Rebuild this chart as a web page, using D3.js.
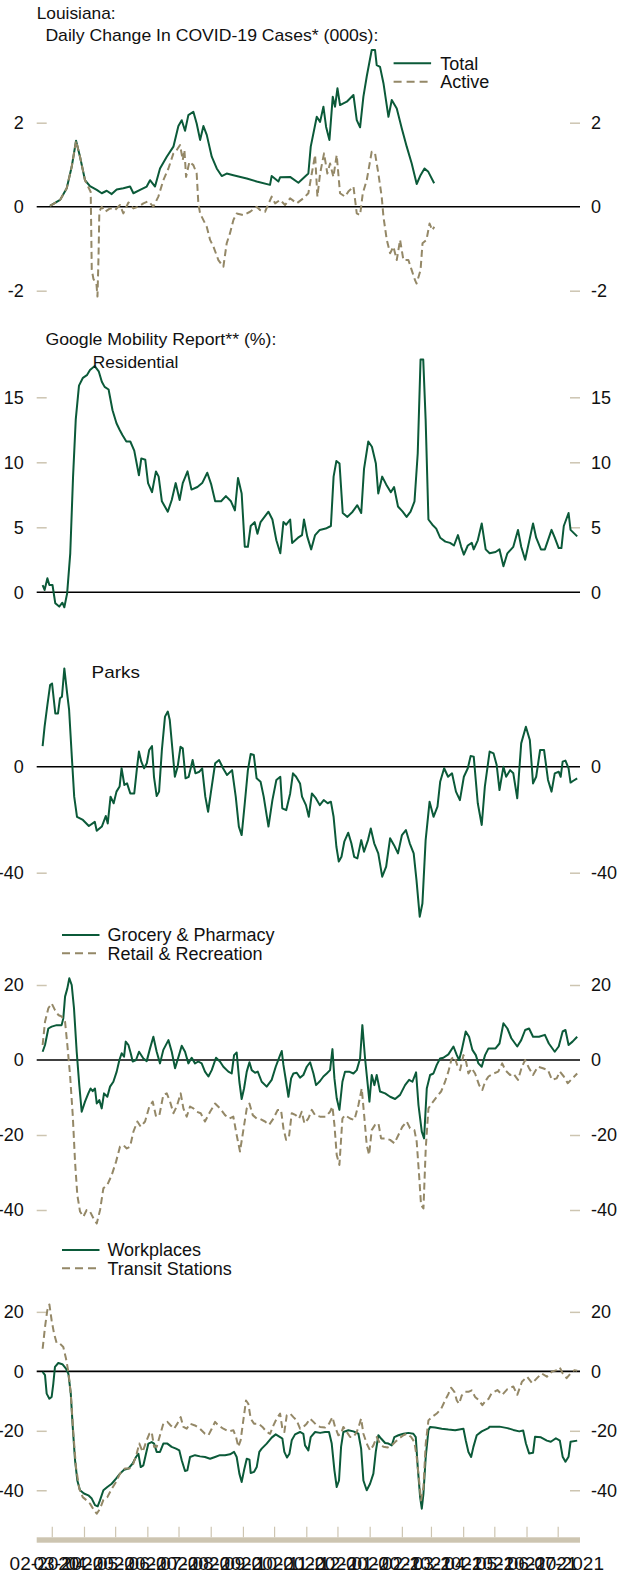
<!DOCTYPE html>
<html>
<head>
<meta charset="utf-8">
<script src="https://cdn.jsdelivr.net/npm/d3@7"></script>
<style>
  body { margin: 0; background: #fff; }
  svg { display: block; }
  text { font-family: "Liberation Sans", Arial, sans-serif; fill: #111; }
</style>
</head>
<body>
<div id="chart"></div>
<script>
// days are counted from DAY0
var DAY0 = "2020-02-15", DAY_END = "2021-07-22";

// Louisiana daily change in cases (000s)
var covidTotal = [[12.8,0.02],[22.5,0.16],[28.9,0.44],[33.7,0.95],[37.9,1.57],[41.7,1.19],[46.5,0.63],[51.3,0.49],[57.8,0.40],[62.6,0.32],[67.4,0.38],[72.2,0.30],[77,0.41],[83.4,0.44],[89.9,0.48],[93.1,0.32],[99.5,0.40],[105.9,0.48],[109.1,0.63],[113.9,0.48],[118.7,0.91],[125.2,1.19],[131.6,1.43],[136.4,1.92],[139.6,2.06],[142.8,1.81],[146,2.18],[150.8,2.26],[154,1.98],[157.3,1.59],[160.5,1.92],[163.7,1.71],[168.5,1.19],[173.3,0.91],[178.1,0.73],[182.9,0.79],[189.3,0.75],[202.2,0.67],[211.8,0.60],[224.6,0.52],[226.2,0.73],[232.7,0.60],[234.3,0.70],[243.9,0.71],[251.9,0.57],[261.5,0.79],[263.8,1.43],[269.6,2.14],[272.8,2.02],[276,2.38],[278.6,1.90],[281.8,1.59],[285,2.62],[287.2,2.38],[289.5,2.82],[292,2.42],[298.5,2.50],[304.9,2.66],[308.1,2.06],[311.3,1.89],[314.5,2.62],[317.7,3.10],[322.5,3.73],[325.7,3.73],[327.3,3.37],[330.5,3.33],[333.8,2.94],[338.6,2.14],[341.8,2.54],[346.6,2.34],[351.4,1.87],[356.2,1.43],[361,1.03],[365.8,0.54],[369.5,0.75],[373.3,0.91],[377,0.83],[382.6,0.56]];
var covidActive = [[12.8,0.02],[22.5,0.16],[28.9,0.44],[33.7,0.95],[37.9,1.57],[41.7,1.19],[46.5,0.63],[50,0.45],[52,0.35],[53,-1.5],[54.6,-1.72],[57.5,-1.83],[58.5,-2.14],[59.5,-1.2],[60.3,-0.12],[62.6,0],[65.8,-0.12],[70.6,-0.04],[75.4,-0.08],[80.2,0.04],[83.4,-0.16],[88.3,0.10],[93.1,-0.04],[97.9,0],[102.7,0.08],[107.5,0.13],[112.3,0],[117.1,0.24],[121.9,0.63],[126.8,0.91],[131.6,1.27],[134.8,1.35],[138,1.47],[140.6,1.11],[142.2,1.35],[143.8,0.71],[147,1.07],[150.8,0.99],[154,0.79],[155.6,0.08],[157.3,-0.16],[160.5,-0.32],[163.7,-0.48],[166.9,-0.79],[170.1,-0.95],[174.9,-1.27],[179.7,-1.43],[182.9,-0.87],[186.1,-0.63],[189.3,-0.32],[192.5,-0.16],[199,-0.2],[205.4,-0.12],[211.8,0],[215,-0.08],[219.8,-0.12],[226.2,0.24],[229.5,0.08],[234.3,0.16],[239.1,0.04],[243.9,0.2],[250.3,0.08],[256.7,0.2],[261.5,0.32],[264.8,0.79],[268,1.23],[270.2,0.24],[272.8,0.79],[276.6,1.27],[279.8,0.79],[282.4,1.03],[285.6,0.71],[288.8,1.23],[292,0.32],[296.8,0.24],[300,0.36],[304.9,0.48],[308.1,-0.16],[311.3,-0.2],[313.9,0.32],[317.7,0.63],[322.5,1.31],[325.7,1.27],[328.9,0.79],[332.1,0.24],[333.8,-0.24],[337,-0.79],[340.2,-1.11],[343.4,-0.95],[346.6,-1.27],[349.8,-0.79],[353,-1.27],[357.8,-1.27],[361,-1.51],[364.2,-1.75],[365.7,-1.83],[369.5,-1.51],[371.4,-0.87],[375.2,-0.79],[378.2,-0.4],[380.8,-0.56],[382.7,-0.48]];

// Google mobility (% change from baseline)
var residential = [[5.7,0.56],[7.6,0.18],[10.3,1.08],[12.2,0.56],[15.2,0.56],[17.9,-0.85],[21.7,-1.1],[24.7,-0.8],[26.6,-1.15],[29.3,-0.08],[32.3,3.0],[35,8.9],[37.6,13.3],[40.7,15.9],[44.5,16.5],[48.3,16.7],[51.3,17.1],[55.9,17.4],[59.7,17.0],[62.7,16.2],[65.4,15.8],[69.2,15.6],[73,14.0],[76.8,13.0],[79.8,12.5],[82.5,12.1],[86.3,11.6],[90.1,11.6],[93.9,10.9],[98.4,9.0],[100.7,10.3],[104.5,10.2],[107.2,8.4],[111,7.7],[114.8,9.3],[117.4,8.9],[120.5,7.0],[126.2,6.2],[130,7.1],[133.8,8.4],[137.6,7.1],[140.6,8.4],[145.2,9.3],[149,7.9],[154.7,8.1],[159.3,8.4],[164.2,9.2],[168,8.3],[171.8,7.0],[177.5,7.0],[182.1,7.4],[187,7.0],[190.8,6.3],[193.8,8.8],[197.3,7.6],[200.3,3.5],[203.3,3.5],[206,5.1],[209.8,5.4],[212.5,4.5],[215.5,5.4],[219.3,5.8],[223.1,6.2],[226.9,5.6],[230.7,4.0],[234.5,3.0],[237.5,5.4],[240.2,5.2],[244,5.6],[245.9,3.8],[251.6,4.2],[255.4,4.4],[257.3,5.6],[260.4,4.3],[264.2,3.3],[268,4.4],[272.5,4.8],[278.2,4.9],[283.2,5.1],[285.8,8.9],[288.5,10.1],[291.5,9.9],[294.6,6.1],[299.1,5.8],[304.1,6.2],[308.6,6.7],[312.4,6.1],[315.1,9.5],[319.2,11.6],[322.7,11.2],[326.5,9.9],[328.8,7.6],[332.6,8.9],[336.4,8.3],[340.9,7.7],[344,8.1],[347.8,6.6],[352.3,6.2],[356.1,5.8],[359.9,6.2],[363.7,7.0],[366.8,10.7],[369.5,17.9],[372.1,17.9],[374.4,13.3],[377.1,5.6],[380.9,5.2],[384.6,4.9],[388.4,4.2],[393.4,3.9],[397.9,3.8],[401.7,3.6],[405.5,4.4],[408.6,3.5],[411.2,2.9],[415,3.6],[418.8,3.8],[420.7,3.3],[424.6,4.0],[428.4,5.3],[432.2,3.3],[436,3.0],[441.7,3.1],[445.5,3.3],[449.3,2.0],[453.1,3.0],[458.8,3.5],[463.3,4.8],[466.4,3.5],[470.2,2.5],[474,3.9],[477.8,5.3],[480.8,4.2],[485.4,3.3],[489.2,3.3],[495.6,4.8],[498.7,4.2],[502.5,3.4],[505.1,3.4],[507.4,5.1],[512,6.1],[513.9,4.8],[520.3,4.3]];
var parks = [[5.7,7.8],[7.6,15.1],[10.3,23.3],[12.9,30.8],[14.8,31.4],[17.9,20.1],[20.5,20.1],[22.4,25.8],[24.3,26.4],[26.6,37.1],[29.3,27.7],[31.2,21.4],[33.8,3.8],[36.1,-11.3],[38.8,-18.9],[44.5,-20.1],[50.2,-22.4],[55.9,-20.8],[57.8,-24.2],[62.7,-22.6],[66.5,-18.6],[68.4,-21.4],[71.1,-11.3],[74.1,-13.8],[76.8,-9.4],[79.8,-7.5],[81.7,-0.6],[84.4,-6.9],[87,-6.3],[90.1,-10.1],[93.9,-10.1],[96.5,-0.6],[98.4,5.7],[100.7,1.9],[103.4,-0.6],[106,1.3],[108.3,6.3],[111,7.8],[112.9,-3.8],[115.5,-11.1],[117.8,-9.4],[120.5,6.3],[123.5,18.9],[126.2,20.8],[128.1,17.6],[130.7,6.3],[133,-3.8],[135.7,0],[138.4,7.5],[140.6,6.9],[143.3,-4.4],[146.3,-3.8],[150.1,2.5],[152.8,-2.5],[156.6,-1.9],[159.3,-0.6],[162.3,-11.3],[165,-17],[168,-8.8],[171.8,1.3],[175.6,2.5],[179.4,-0.6],[183.2,-3.1],[188.1,-1.3],[191.6,-11.3],[194.6,-22.6],[197.3,-25.8],[200.3,-13.8],[203.3,-1.3],[206,4.8],[209,4.4],[211.7,-4.4],[215.5,-5.7],[218.5,-11.3],[223.1,-22.6],[226.9,-12.6],[230.7,-5],[234.5,-3.8],[236.4,-15.7],[240.2,-16.4],[244,-10.1],[246.7,-2.5],[249.7,-3.8],[253.5,-6.3],[255.4,-11.3],[259.2,-14.5],[261.9,-18.9],[264.9,-10.1],[268.7,-11.9],[272.5,-14.5],[276.3,-12.6],[280.1,-13.8],[283.2,-13.2],[285.8,-18.9],[288.5,-30.2],[290.8,-35.8],[293.4,-34],[296.1,-28.3],[299.9,-24.9],[302.9,-28.9],[305.6,-34],[308.7,-34.6],[312.4,-27.7],[315.1,-32.1],[318.9,-27.7],[321.6,-23.3],[324.9,-28.9],[328.8,-32.7],[332.6,-41.5],[336.4,-37.7],[340.2,-27],[344,-29.6],[347.8,-32.7],[351.6,-25.8],[355.4,-23.9],[359.1,-28.9],[362.9,-32.7],[365.6,-42.8],[368.7,-56.6],[371.3,-51.6],[374.4,-27.7],[378.2,-13.2],[382,-18.9],[385.8,-15.1],[388.4,-5.7],[392.2,-0.6],[396,-3.8],[399.8,-2.5],[403.6,-9.4],[407.4,-12.6],[411.2,-3.8],[415,-0.6],[417.7,4],[420.7,3.8],[424.6,-13.8],[428.4,-22],[431.4,-7.5],[436,5.7],[439.8,5],[442.8,0.6],[445.5,-8.8],[449.3,0],[451.9,-3.8],[455.7,-1.3],[458.8,-2.5],[462.6,-11.9],[466.4,8.8],[470.9,15.1],[474.7,10.1],[477.8,-6.3],[480.8,-3.8],[484.6,6.3],[488.4,6.3],[492.2,-5],[495.6,-9.4],[498.7,-2.5],[502.5,-1.9],[504.4,-3.8],[506.3,1.9],[509,2.3],[512,-0.6],[513.9,-6],[516.6,-5.3],[520.3,-4.4]];
var grocery = [[5.7,2.2],[8,4],[11.2,8.4],[14.4,8.9],[19.2,9.3],[24,9.3],[25.6,11.1],[27.3,16.9],[29.5,19.1],[31.4,21.8],[33.7,20],[35.9,13.8],[38.5,2.2],[41,-6.7],[43.3,-13.8],[46.5,-11.1],[49.7,-8.9],[51.9,-7.6],[53.9,-8.3],[56.1,-7.6],[57.8,-11.6],[60.3,-10.7],[62.6,-12.9],[64.8,-8.9],[68,-9.8],[70.6,-7.1],[73.8,-5.8],[77,-3.1],[79.6,0],[81.8,1.8],[84.1,0.9],[85.7,4.9],[88.3,4],[90.5,1.8],[92.4,-0.4],[95.6,0],[98.5,2.2],[102.7,0.4],[105.9,-0.3],[109.1,3.1],[112.3,6.2],[115.5,2.2],[118.7,-0.9],[121.9,2.7],[126.8,5.3],[130,2.2],[133.2,-2.2],[137,1.3],[139.6,3.8],[142.8,2.2],[146,-0.9],[149.2,0.6],[152.4,-0.9],[155.6,-0.4],[158.8,-0.9],[162,-3.1],[165.3,-4.4],[168.5,-2.7],[172.6,0.6],[176.4,-0.4],[179.7,-1.8],[184.5,-3.1],[187.7,-3.6],[190,1.3],[192.5,2],[195.1,-5.8],[197.3,-10.4],[199.6,-7.6],[202.2,-3.1],[204.8,-0.6],[207,-2.7],[210.2,-3.4],[212.8,-3.1],[216.6,-5.8],[221.4,-7.1],[226.2,-5.3],[230.1,-1.8],[234.3,1.3],[235.9,2.4],[237.5,-1.3],[240.1,-5.8],[242.3,-9.8],[244.9,-4.9],[247.1,-3.6],[250.3,-3.4],[253.5,-4.7],[256.7,-4],[260,-1.8],[263.2,-0.6],[266.4,-3.6],[268.9,-6.7],[272.8,-5.6],[276,-4.4],[279.2,-3.6],[282.4,-2.7],[284.7,2.9],[286.6,-4.9],[288.8,-10.2],[291.4,-13.3],[294.3,-5.8],[296.8,-3.1],[300.7,-3.1],[304.9,-3.6],[308.1,-2.7],[311.3,0.4],[313.5,9.3],[316.1,0.4],[318.7,-6.7],[320.3,-11.1],[322.5,-4],[325.1,-6.7],[327.3,-4],[330.5,-8.4],[335.4,-8.9],[340.2,-9.8],[345,-10.4],[349.8,-9.3],[354.6,-6.7],[358.5,-5.3],[361.7,-5.8],[365.2,-3.3],[367.5,-12],[370.7,-19.1],[372.9,-20.9],[375.5,-7.6],[378.7,-4],[381.9,-3.6],[385.1,-1.3],[388.3,0.4],[391.5,0.6],[396.3,1.5],[401.2,3.6],[404.4,1.3],[406.6,0],[409.2,2.7],[413,7.6],[416.2,6.2],[419.4,2.7],[422.7,1.3],[425.2,-0.9],[428.4,-1.8],[431.6,1.3],[434.9,3.1],[441.7,3.1],[445.5,4.4],[449.3,9.8],[453.1,8.4],[456.9,5.8],[462.6,3.6],[466.4,5.3],[470.2,8],[474,8.4],[477.8,6.2],[483.5,6.2],[489.2,6.7],[493,4.4],[498.7,2.2],[502.5,3.6],[506.3,7.6],[509,8],[512,4],[515.8,4.9],[520.3,6.2]];
var retail = [[5.7,4],[8,10.2],[11.2,13.8],[14.4,15.1],[17.6,13.3],[20.8,12],[24,11.6],[27.3,10.2],[29.5,4],[32.1,-4],[34.7,-14.7],[36.9,-27.1],[39.1,-36],[41.7,-40.4],[44.9,-41.8],[48.1,-40],[51.3,-40.4],[54.6,-42.2],[57.8,-43.6],[61,-40],[64.2,-34.2],[68,-33.3],[72.2,-30.7],[76.4,-27.1],[80.2,-23.1],[83.4,-22.7],[86.7,-23.6],[89.9,-23.1],[93.1,-19.1],[96.9,-16.4],[100.2,-17.8],[104.3,-16.4],[108.4,-12.4],[111.7,-11.1],[114.9,-15.1],[118.1,-14.7],[121.9,-9.3],[125.2,-8.9],[128.4,-11.1],[131.6,-14.2],[134.8,-12.4],[138.6,-8.9],[141.2,-12.9],[144.4,-15.1],[147.6,-12.4],[150.8,-12.9],[154,-13.8],[157.9,-14.2],[162,-16.4],[166.9,-13.8],[171.7,-11.6],[176.4,-12.9],[181.3,-14.7],[185.4,-15.6],[189.3,-15.1],[192.5,-20],[195.7,-24.4],[198.7,-19.1],[202.2,-12.9],[204.8,-11.6],[208,-14.7],[211.8,-15.6],[215,-15.7],[219.8,-16.4],[223.7,-17.3],[227.9,-15.6],[232,-13.3],[235.2,-13.3],[237.5,-18.2],[240.1,-21.3],[242.9,-20.4],[245.5,-14.2],[249.4,-14.7],[252.6,-15.6],[255.1,-13.8],[257.7,-16.9],[261.5,-15.6],[264.8,-13.3],[268,-14.7],[272.8,-15.1],[278.2,-15.1],[282.4,-13.8],[284.7,-12.4],[286.6,-17.3],[288.8,-25.3],[291.4,-28],[294.3,-15.6],[296.8,-14.7],[301.7,-15.6],[305.8,-16],[309.7,-12],[312.9,-7.6],[315.5,-15.6],[317.7,-22.7],[320,-25.3],[322.5,-18.7],[325.7,-17.3],[329,-16.9],[331.5,-20.9],[335.4,-20.9],[340.2,-21.3],[344.3,-22.2],[348.2,-20],[352,-17.8],[356.2,-16.4],[359.4,-18.2],[363.6,-18.7],[365.8,-21.8],[368.1,-30.7],[370,-38.7],[372.3,-39.6],[374.5,-23.6],[377.1,-12.9],[380.3,-11.6],[385.1,-9.8],[389.3,-8.4],[393.1,-5.8],[396.3,-3.1],[399.5,0.4],[402.1,0.9],[405.3,-1.8],[407.6,-2.7],[410.8,1.3],[413,0],[415.6,-3.6],[418.8,-2.2],[422,-3.6],[425.9,-6.7],[429,-8],[431.6,-5.8],[434.9,-4.4],[439.8,-3.6],[444.3,-3.1],[448.1,-0.9],[451.1,-2.7],[455.7,-4],[458.8,-3.6],[463.3,-5.3],[467.1,-1.8],[470.2,0],[474,-2.2],[477.8,-4],[482.3,-1.8],[487.3,-2.2],[492.2,-2.7],[496,-5.3],[500.6,-4.9],[503.6,-3.1],[507.4,-4.4],[511.2,-6.2],[515.8,-4.9],[520.3,-3.6]];
var workplaces = [[5.7,-0.2],[8,-1.3],[9.6,-7.5],[12.2,-9.2],[14.4,-8.6],[16,-4.1],[17.6,1.5],[20.8,2.8],[24.7,2.4],[28.2,0.9],[30.5,-0.8],[32.8,-7.5],[34.7,-18.7],[36.9,-29.9],[39.1,-36.7],[41.7,-40],[45.5,-41.1],[49.7,-41.7],[53,-42.8],[56.1,-45],[58.7,-45.4],[60.9,-43.4],[64.2,-40],[68,-38.9],[72.2,-37.8],[76.4,-36.1],[80.2,-34.4],[84.1,-33.1],[88.2,-32.7],[92.4,-31],[95.6,-28.8],[97.9,-27.7],[100.1,-32.2],[102.7,-31.6],[105.2,-27.7],[107.5,-24.3],[110.7,-23.8],[113,-24.3],[115.5,-27.1],[118.7,-27.1],[121.9,-24.3],[125.8,-24.3],[129.9,-25.4],[134.1,-26],[137.3,-26.6],[139.6,-29.9],[142.8,-33.5],[145,-33.3],[147.6,-28.8],[152.4,-28.2],[157.2,-28.6],[162,-28.8],[166.9,-29.4],[171.7,-28.8],[176.4,-28.2],[181.3,-28.2],[186.1,-27.9],[190,-27.1],[192.5,-28.8],[195.1,-34.4],[197.3,-37.2],[199.6,-33.3],[202.2,-29.4],[204.8,-29.7],[206,-34.2],[209.3,-33.8],[211.8,-32.2],[214.3,-27.1],[216.6,-26],[221.4,-24.3],[226.2,-22.3],[230.1,-21.2],[234.3,-22.1],[236.5,-22.6],[238.4,-27.1],[241,-29],[243.3,-27.7],[245.5,-23.2],[248.7,-21.2],[253.5,-20.4],[256.7,-21],[258.3,-24.9],[261.5,-26.6],[263.8,-22.1],[268,-20.4],[272.8,-20.7],[277.6,-20.4],[281.4,-20.4],[284,-24.3],[286.6,-33.3],[288.8,-38.9],[291,-36.7],[293,-25.4],[295.2,-20.4],[300,-19.8],[304.9,-20.2],[309.7,-21],[312.3,-26],[314.5,-36.7],[317.7,-40],[320.9,-37.8],[324.1,-34.4],[326.4,-27.1],[328.9,-21.5],[331.5,-22.6],[335.4,-24.1],[338.6,-24.3],[341.8,-24.9],[344.3,-22.1],[348.2,-21.5],[353,-21],[357.8,-20.7],[362.6,-21],[364.9,-22.1],[366.8,-32.2],[369.1,-42.3],[370.7,-46.2],[372.3,-41.1],[374.5,-28.8],[377.1,-19.8],[378.7,-18.7],[383.5,-18.9],[389.9,-19.3],[396.3,-19.6],[402.8,-19.8],[410.8,-19.3],[413,-23.2],[415.6,-27.1],[418.2,-28.8],[420.4,-25.4],[423.6,-21.5],[428.4,-20.2],[434.9,-19.1],[436,-18.6],[445.5,-18.6],[453.1,-19.1],[458.8,-19.7],[464.5,-20.2],[468.3,-19.9],[470.9,-24.2],[474,-27.6],[477.8,-27.4],[479.7,-22],[485.4,-22.2],[491.1,-23.3],[494.9,-23.7],[499.8,-22.5],[503.6,-23.3],[506.3,-28.7],[509,-30.4],[512,-28.7],[513.9,-23.7],[520.3,-23.3]];
var transit = [[5.7,7.6],[8,14.9],[10.2,20.5],[12.2,22.5],[14.4,17.1],[16.7,12.7],[19.2,9.5],[22.4,9.3],[25.6,8.2],[28.2,4.3],[30.5,-0.2],[32.8,-7.5],[35.3,-20.9],[37.8,-32.2],[41,-39.5],[44.3,-42.3],[48.1,-43.4],[51.3,-44.5],[55.2,-46.7],[57.8,-47.9],[61,-46.2],[64.2,-43.2],[68,-42.3],[72.2,-39.5],[76.4,-37.2],[80.2,-34.4],[85,-32.7],[89.2,-32.7],[93.1,-31],[96.2,-27.7],[98.8,-24.3],[102,-27.1],[105.9,-23.2],[108.4,-21],[110.7,-20.4],[113,-25.4],[115.5,-25.4],[118.7,-21.5],[121.9,-17.6],[125.8,-17],[129,-18.2],[132.2,-19.3],[135.4,-17.6],[138.6,-15.4],[141.2,-18.7],[144.4,-19.3],[147.6,-17.6],[152.4,-18.2],[157.2,-19.3],[162,-21],[165.3,-21.5],[168.5,-19.3],[171.7,-17],[174.9,-18.2],[179.7,-19.3],[184.5,-20.2],[189.3,-19.8],[191.9,-22.1],[194.1,-25.4],[196.3,-23.2],[198.9,-16.5],[201.5,-9.8],[203.7,-10.9],[206,-15.9],[209.2,-17.6],[213.4,-17.6],[217.3,-18.7],[221.4,-20.4],[224.6,-21],[227.9,-18.2],[231,-15.9],[234.3,-14.2],[236.5,-19.3],[238.4,-20.4],[240.7,-14.8],[243.9,-14.2],[247.1,-15.4],[250.3,-16.5],[253.5,-19.3],[256.7,-18.7],[259.9,-17.6],[263.2,-15.9],[266.4,-17],[269.6,-18.2],[272.8,-18.7],[277.6,-18.9],[281.4,-17.6],[284.7,-15.4],[287.2,-18.7],[290.4,-21.5],[293,-21],[295.2,-18.7],[298.5,-20.4],[301.7,-22.1],[304.9,-22.1],[308.1,-20.4],[310.3,-18.2],[312.3,-15.9],[314.5,-21],[317.7,-24.3],[320.9,-26.6],[324.1,-24.9],[327.3,-22.1],[330.5,-24.3],[333.8,-25.4],[337.9,-25.6],[341.8,-24.9],[345,-23.8],[348.8,-22.6],[353,-21.5],[356.2,-21],[360.4,-22.1],[363.6,-23.8],[365.8,-28.8],[368.1,-36.7],[370,-43.4],[372.3,-38.9],[374.5,-24.3],[377.1,-16.5],[380.3,-15.4],[385.1,-14.2],[389.3,-12.6],[393.1,-9.8],[396.3,-7.6],[398.9,-5.5],[402.1,-6.9],[404.4,-9.8],[406.6,-10.9],[409.2,-8.1],[412.4,-6.9],[415.6,-6.9],[418.8,-6.4],[422,-8.6],[425.9,-9.8],[429,-11.4],[432.3,-9.8],[434.9,-9.3],[437.9,-7.4],[443.5,-6.3],[448.1,-7.9],[453.1,-6],[458.8,-5.1],[462.6,-7.9],[467.1,-3.5],[472.1,-1.8],[477,-4],[481.6,-2.3],[486.1,-0.7],[491.1,-1.8],[496,-0.1],[500.6,0.4],[503.6,1.3],[506.3,-0.7],[510.1,-2.3],[513.9,-0.7],[517.6,0.4],[520.3,0.2]];

// tick values and labels
var ticksCases = [-2, 0, 2];
var ticksResidential = [0, 5, 10, 15];
var ticksParks = [-40, 0];
var ticksRetail = [-40, -20, 0, 20];
var ticksTransit = [-40, -20, 0, 20];
var legendCases = ["Total", "Active"];
var legendRetail = ["Grocery & Pharmacy", "Retail & Recreation"];
var legendTransit = ["Workplaces", "Transit Stations"];

var green = "#0b5a39", tan = "#948867", tickCol = "#cdc5b1";
var W = 619, H = 1574, left = 36.7, right = 580;

var parseDay = d3.utcParse("%Y-%m-%d");
var t0 = parseDay(DAY0), t1 = parseDay(DAY_END);
function toDate(d) { return new Date(t0.getTime() + d * 864e5); }

var x = d3.scaleUtc().domain([t0, t1]).range([left, right]);

var svg = d3.select("#chart").append("svg")
    .attr("width", W)
    .attr("height", H);

var panels = [
  {domain: [-2.5, 4], range: [311.7, 38.7], ticks: ticksCases,
   lines: [{data: covidTotal, color: green}, {data: covidActive, color: tan, dash: true}]},
  {domain: [-2, 18.5], range: [618.3, 351.8], ticks: ticksResidential,
   lines: [{data: residential, color: green}]},
  {domain: [-60, 40], range: [925.7, 660.7], ticks: ticksParks,
   lines: [{data: parks, color: green}]},
  {domain: [-45, 25], range: [1228.75, 966.25], ticks: ticksRetail,
   lines: [{data: grocery, color: green}, {data: retail, color: tan, dash: true}]},
  {domain: [-50, 25], range: [1520, 1297], ticks: ticksTransit,
   lines: [{data: workplaces, color: green}, {data: transit, color: tan, dash: true}]}
];

// plain hyphen for negatives, as in the original
var tickFmt = function(d) { return String(d); };

panels.forEach(function(p) {
  var y = d3.scaleLinear().domain(p.domain).range(p.range);
  var g = svg.append("g");

  // left and right axes: short tan ticks pointing inward
  var la = g.append("g").attr("transform", "translate(" + left + ",0)")
      .call(d3.axisLeft(y).tickValues(p.ticks).tickSize(-10).tickPadding(13).tickFormat(tickFmt));
  var ra = g.append("g").attr("transform", "translate(" + right + ",0)")
      .call(d3.axisRight(y).tickValues(p.ticks).tickSize(-10).tickPadding(11).tickFormat(tickFmt));
  [la, ra].forEach(function(a) {
    a.select(".domain").remove();
    a.selectAll(".tick line").attr("stroke", tickCol).attr("stroke-width", 1.5)
      .filter(function(d) { return d === 0; }).remove();
    a.selectAll(".tick text").attr("fill", "#111")
      .style("font-size", "18px").style("font-family", "'Liberation Sans', Arial, sans-serif");
  });

  // zero line
  g.append("line")
    .attr("x1", left).attr("x2", right)
    .attr("y1", y(0)).attr("y2", y(0))
    .attr("stroke", "#000").attr("stroke-width", 1.6);

  var line = d3.line()
    .x(function(d) { return x(toDate(d[0])); })
    .y(function(d) { return y(d[1]); });

  p.lines.forEach(function(s) {
    g.append("path")
      .datum(s.data)
      .attr("d", line)
      .attr("fill", "none")
      .attr("stroke", s.color)
      .attr("stroke-width", 2)
      .attr("stroke-linejoin", "round")
      .attr("stroke-dasharray", s.dash ? "7,4" : null);
  });
});

// titles
function label(txt, tx, ty, len) {
  var t = svg.append("text").attr("x", tx).attr("y", ty)
    .style("font-size", "17px").text(txt);
  if (len) t.attr("textLength", len).attr("lengthAdjust", "spacingAndGlyphs");
  return t;
}
label("Louisiana:", 36.7, 19.3, 79);
label("Daily Change In COVID-19 Cases* (000s):", 45.4, 40.7, 333);
label("Google Mobility Report** (%):", 45.4, 345, 231);
label("Residential", 92.8, 368.3, 85.6);
label("Parks", 91.6, 678.3, 48.4);

// legends
function legend(names, lx, ly, gap, tx) {
  var lg = svg.append("g");
  lg.selectAll("line").data(names).enter().append("line")
    .attr("x1", lx).attr("x2", lx + 37.5)
    .attr("y1", function(d, i) { return ly + i * gap; })
    .attr("y2", function(d, i) { return ly + i * gap; })
    .attr("stroke", function(d, i) { return i === 0 ? green : tan; })
    .attr("stroke-width", 2)
    .attr("stroke-dasharray", function(d, i) { return i === 0 ? null : "8,5"; });
  lg.selectAll("text").data(names).enter().append("text")
    .attr("x", tx)
    .attr("y", function(d, i) { return ly + i * gap; })
    .attr("dy", "0.36em")
    .style("font-size", "18px")
    .text(function(d) { return d; });
}
legend(legendCases, 393.6, 63.3, 18.4, 440.2);
legend(legendRetail, 62, 935, 18.3, 107.4);
legend(legendTransit, 62, 1250, 18.3, 107.4);

// bottom date axis
var axisY = 1537.3;
svg.append("rect")
  .attr("x", left).attr("y", axisY)
  .attr("width", right - left).attr("height", 5.4)
  .attr("fill", tickCol);

var monthTicks = d3.utcMonth.range(d3.utcMonth.ceil(t0), t1);
svg.selectAll(".mtick").data(monthTicks).enter().append("line")
  .attr("class", "mtick")
  .attr("x1", function(d) { return x(d); }).attr("x2", function(d) { return x(d); })
  .attr("y1", axisY - 10.6).attr("y2", axisY)
  .attr("stroke", tickCol).attr("stroke-width", 1.2);

var fmt = d3.utcFormat("%m-%Y");
var months = d3.utcMonth.range(d3.utcMonth.floor(t0), t1);
svg.selectAll(".mlab").data(months).enter().append("text")
  .attr("class", "mlab")
  .attr("x", function(d) {
    var a = d < t0 ? t0 : d;
    var b = d3.utcMonth.offset(d, 1);
    if (b > t1) b = t1;
    return (x(a) + x(b)) / 2;
  })
  .attr("y", 1570)
  .attr("text-anchor", "middle")
  .style("font-size", "19px")
  .text(function(d) { return fmt(d); });
</script>
</body>
</html>
